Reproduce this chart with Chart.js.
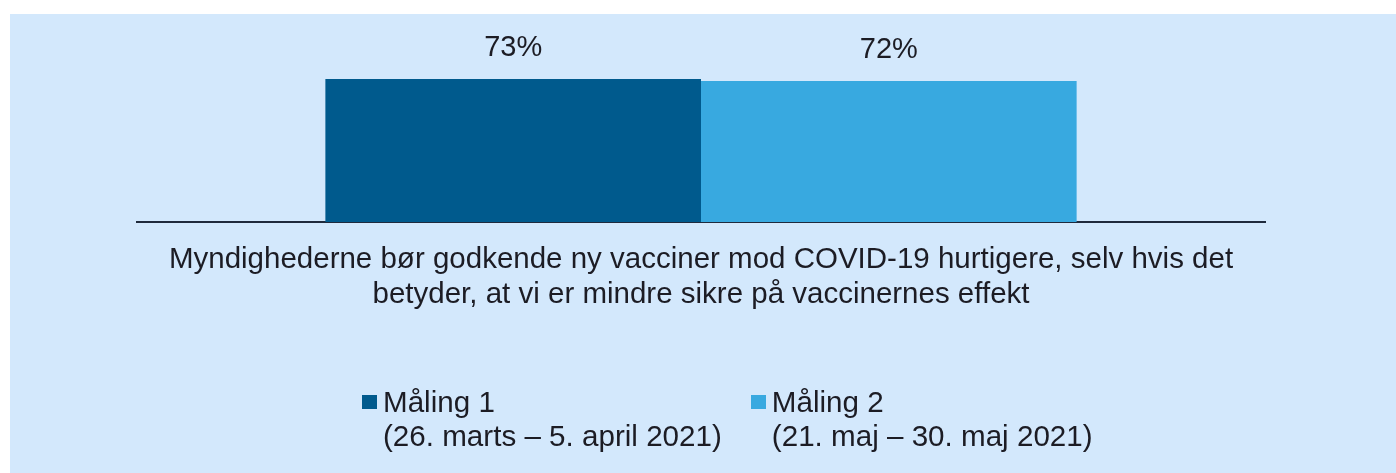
<!DOCTYPE html>
<html>
<head>
<meta charset="utf-8">
<script src="https://cdn.jsdelivr.net/npm/chart.js@4.4.1/dist/chart.umd.min.js"></script>
<style>
  html, body { margin: 0; padding: 0; background: #ffffff; }
  #wrap {
    position: absolute;
    left: 10px;
    top: 14px;
    width: 1386px;
    height: 459px;
    background: #d3e8fc;
  }
  #chartBox { position: absolute; left: 0; top: 0; width: 1386px; height: 459px; }
  #legend {
    position: absolute;
    left: 352px;
    top: 371px;
    display: flex;
    font-family: 'Liberation Sans', Arial, sans-serif;
    font-size: 29.6px;
    line-height: 34px;
    color: #1c1c24;
  }
  .legend-item { display: flex; align-items: flex-start; margin-right: 29px; }
  .legend-box { width: 15px; height: 14px; margin-top: 10px; margin-right: 6px; }
</style>
</head>
<body>
<div id="wrap">
  <div id="chartBox"><canvas id="chart"></canvas></div>
  <div id="legend"></div>
</div>
<script>
const categories = [
  [
    "Myndighederne bør godkende ny vacciner mod COVID-19 hurtigere, selv hvis det",
    "betyder, at vi er mindre sikre på vaccinernes effekt",
  ],
];
const seriesNames = [
  ["Måling 1", "(26. marts – 5. april 2021)"],
  ["Måling 2", "(21. maj – 30. maj 2021)"],
];
const maaling1 = [73];
const maaling2 = [72];
const seriesColors = ["#005a8d", "#38a9e0"];

const textColor = "#1c1c24";
const fontFamily = "'Liberation Sans', Arial, sans-serif";

// draws the "73%" labels above each bar
const valueLabels = {
  id: "valueLabels",
  afterDatasetsDraw(chart) {
    const ctx = chart.ctx;
    ctx.save();
    ctx.font = "29px " + fontFamily;
    ctx.fillStyle = textColor;
    ctx.textAlign = "center";
    ctx.textBaseline = "middle";
    chart.data.datasets.forEach((ds, i) => {
      const meta = chart.getDatasetMeta(i);
      meta.data.forEach((bar, j) => {
        ctx.fillText(ds.data[j] + "%", bar.x, bar.y - 31);
      });
    });
    ctx.restore();
  },
};

// legend as html, two lines per item
const htmlLegend = {
  id: "htmlLegend",
  afterUpdate(chart) {
    const box = document.getElementById("legend");
    box.innerHTML = "";
    const items = Chart.defaults.plugins.legend.labels.generateLabels(chart);
    items.forEach((item) => {
      const el = document.createElement("div");
      el.className = "legend-item";
      const swatch = document.createElement("div");
      swatch.className = "legend-box";
      swatch.style.background = item.fillStyle;
      const text = document.createElement("div");
      text.innerHTML = [].concat(item.text).join("<br>");
      el.appendChild(swatch);
      el.appendChild(text);
      box.appendChild(el);
    });
  },
};

const ctx = document.getElementById("chart").getContext("2d");
new Chart(ctx, {
  type: "bar",
  data: {
    labels: categories,
    datasets: [
      {
        label: seriesNames[0],
        data: maaling1,
        backgroundColor: seriesColors[0],
        borderWidth: 0,
        categoryPercentage: 0.666,
        barPercentage: 1.0,
      },
      {
        label: seriesNames[1],
        data: maaling2,
        backgroundColor: seriesColors[1],
        borderWidth: 0,
        categoryPercentage: 0.666,
        barPercentage: 1.0,
      },
    ],
  },
  options: {
    responsive: true,
    maintainAspectRatio: false,
    animation: false,
    layout: {
      padding: { left: 127, right: 131, top: 12, bottom: 151 },
    },
    scales: {
      x: {
        grid: { display: false },
        border: { display: true, color: "#1f2a3c", width: 2 },
        ticks: {
          color: textColor,
          font: { family: fontFamily, size: 29.5, lineHeight: 1.2 },
          maxRotation: 0,
          padding: 12,
        },
        afterFit(scale) {
          scale.height = 100;
        },
      },
      y: {
        display: false,
        min: 0,
        max: 100,
      },
    },
    plugins: {
      legend: { display: false },
      tooltip: { enabled: false },
    },
  },
  plugins: [valueLabels, htmlLegend],
});
</script>
</body>
</html>
